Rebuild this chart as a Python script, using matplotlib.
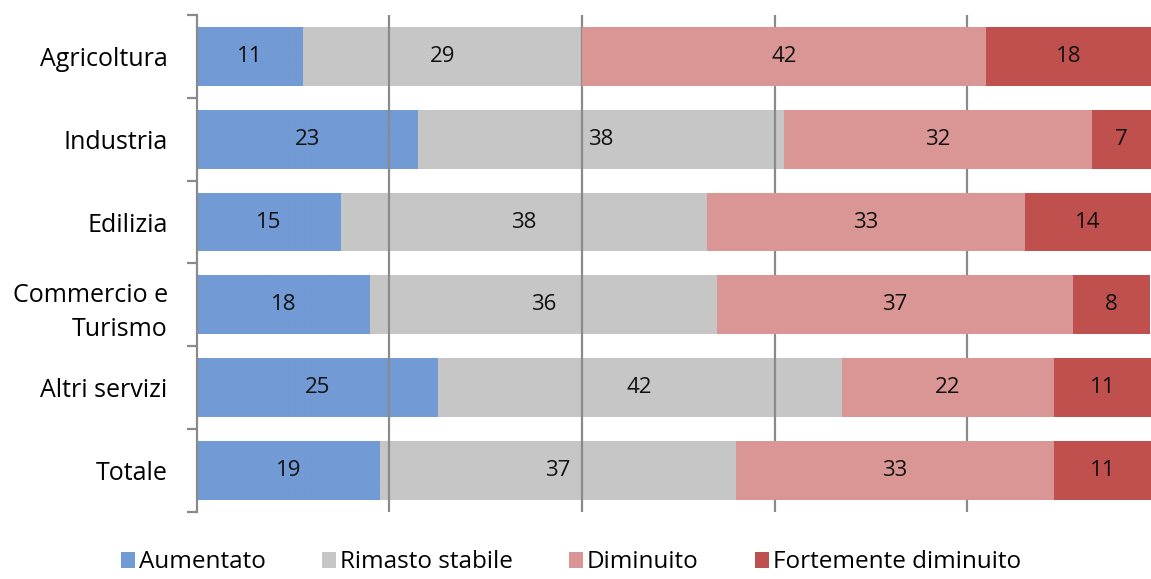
import matplotlib
matplotlib.use("Agg")
import matplotlib.pyplot as plt
import numpy as np
from matplotlib.patches import Patch

categories = ["Agricoltura", "Industria", "Edilizia", "Commercio e\nTurismo", "Altri servizi", "Totale"]
aumentato = [11, 23, 15, 18, 25, 19]
stabile = [29, 38, 38, 36, 42, 37]
diminuito = [42, 32, 33, 37, 22, 33]
fortemente = [18, 7, 14, 8, 11, 11]
series_names = ["Aumentato", "Rimasto stabile", "Diminuito", "Fortemente diminuito"]

plt.rcParams["font.family"] = ["Open Sans", "DejaVu Sans"]
plt.rcParams["hatch.linewidth"] = 0.3

fig = plt.figure(figsize=(11.51, 5.79), dpi=100)
ax = fig.add_axes([0.171, 0.116, 0.829, 0.858])

y = np.arange(len(categories))
h = 0.71
blue, blue_h = "#5683c5", "#729ad5"
blue_hatch = "+" * 24
gray = "#c6c6c6"
pink = "#d99694"
red = "#c0504d"

left = np.zeros(len(categories))
b1 = ax.barh(y, aumentato, height=h, left=left, color=blue, edgecolor=blue_h,
             hatch=blue_hatch, linewidth=0, zorder=1)
left += np.array(aumentato)
b2 = ax.barh(y, stabile, height=h, left=left, color=gray, linewidth=0, zorder=1)
left += np.array(stabile)
b3 = ax.barh(y, diminuito, height=h, left=left, color=pink, linewidth=0, zorder=3)
left += np.array(diminuito)
b4 = ax.barh(y, fortemente, height=h, left=left, color=red, linewidth=0, zorder=3)

for bars in (b1, b2, b3, b4):
    ax.bar_label(bars, label_type="center", fontsize=16, color="#111111", zorder=5)

# vertical gridlines sit above the patterned bars but under the solid red ones
for gx in (20, 40, 60, 80):
    ax.axvline(gx, color="#8a8a8a", lw=1.6, zorder=2)

ax.set_xlim(0, 99.1)
ax.set_ylim(len(categories) - 0.5, -0.5)
ax.set_yticks(y)
ax.set_yticklabels(categories, fontsize=18, linespacing=1.5)
ax.set_yticks(np.arange(-0.5, len(categories)), minor=True)
ax.tick_params(axis="y", which="major", length=0, pad=21)
ax.tick_params(axis="y", which="minor", length=7, width=1.6, color="#8a8a8a")
ax.set_xticks([])
for s in ("top", "right", "bottom"):
    ax.spines[s].set_visible(False)
ax.spines["left"].set_color("#8a8a8a")
ax.spines["left"].set_linewidth(1.6)

handles = [
    Patch(facecolor=blue, edgecolor=blue_h, hatch=blue_hatch, linewidth=0),
    Patch(facecolor=gray, linewidth=0),
    Patch(facecolor=pink, linewidth=0),
    Patch(facecolor=red, linewidth=0),
]
fig.legend(handles, series_names, loc="lower center", bbox_to_anchor=(0.496, -0.03),
           ncol=4, frameon=False, fontsize=17.5, handlelength=0.6, handleheight=0.6,
           handletextpad=0.15, columnspacing=2.3)

fig.savefig("out.png", dpi=100)
